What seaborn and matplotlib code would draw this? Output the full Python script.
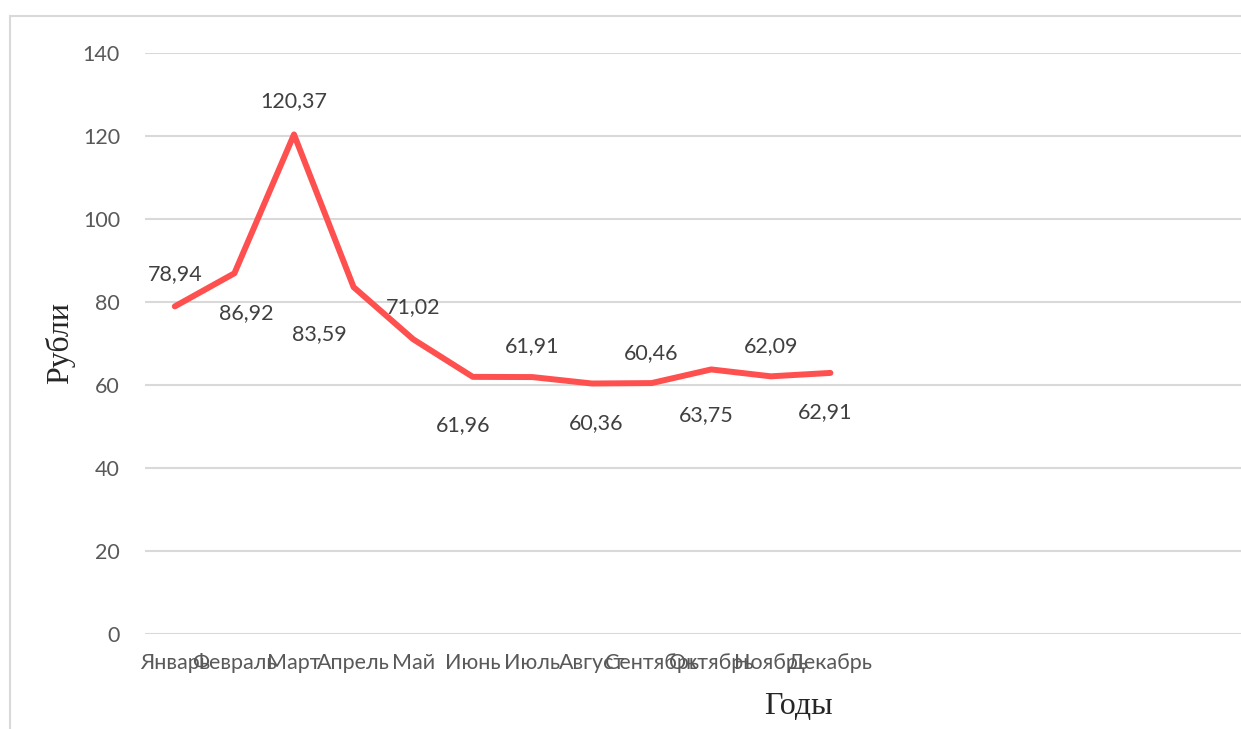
import matplotlib
matplotlib.use("Agg")
import matplotlib.pyplot as plt
from matplotlib.patches import Rectangle
import seaborn as sns
import pandas as pd

months = ["Январь", "Февраль", "Март", "Апрель", "Май", "Июнь",
          "Июль", "Август", "Сентябрь", "Октябрь", "Ноябрь", "Декабрь"]
prices = [78.94, 86.92, 120.37, 83.59, 71.02, 61.96,
          61.91, 60.36, 60.46, 63.75, 62.09, 62.91]
y_ticks = [0, 20, 40, 60, 80, 100, 120, 140]
x_title = "Годы"
y_title = "Рубли"

# label offsets in pixels (dx, dy) relative to each point
label_offsets = [(0, 32), (12, -40), (0, 33), (-34, -47), (0, 32), (-10, -48),
                 (0, 31), (4, -40), (0, 30), (-5, -46), (0, 30), (-5, -39)]

sns.set_theme(style="white")
plt.rcParams["font.family"] = ["Lato", "DejaVu Sans"]

W, H = 1241, 729
fig = plt.figure(figsize=(W / 100, H / 100), dpi=100)
fig.patch.set_facecolor("white")

# outer chart frame
fig.add_artist(Rectangle((10 / W, -0.1), 1.2, 1.1 - 16 / H,
                         transform=fig.transFigure, fill=False,
                         edgecolor="#D9D9D9", linewidth=1.5))

ax = fig.add_axes([145 / W, 1 - 634 / H, 1 - 145 / W, (634 - 53) / H])

df = pd.DataFrame({"month": pd.Categorical(months, categories=months, ordered=True),
                   "price": prices})
df["pos"] = range(len(months))
sns.lineplot(data=df, x="pos", y="price", ax=ax, color="#FF5050",
             linewidth=4.3, sort=False)

ax.set_ylim(0, 140)
ax.set_xlim(-0.5, (W - 145) / 59.6 - 0.5)
ax.set_yticks(y_ticks)
ax.set_xticks(range(len(months)))
ax.set_xticklabels(months)
ax.grid(axis="y", color="#D9D9D9", linewidth=1.5)
ax.grid(axis="x", visible=False)
ax.set_axisbelow(True)
for s in ax.spines.values():
    s.set_visible(False)
ax.tick_params(axis="y", length=0, pad=18, labelsize=15.5, labelcolor="#595959")
ax.tick_params(axis="x", length=0, pad=14, labelsize=15.5, labelcolor="#595959")
ax.set_xlabel("")
ax.set_ylabel("")

for i, (v, (dx, dy)) in enumerate(zip(prices, label_offsets)):
    ax.annotate(f"{v:.2f}".replace(".", ","), (i, v), xytext=(dx, dy),
                textcoords="offset pixels", ha="center", va="center",
                fontsize=15.5, color="#404040")

fig.text(798 / W, 1 - 707 / H, x_title, family="Liberation Serif",
         fontsize=23, color="#262626", ha="center", va="center")
fig.text(60 / W, 1 - 343 / H, y_title, family="Liberation Serif",
         fontsize=23, color="#262626", ha="center", va="center", rotation=90)

fig.savefig("out.png", dpi=100)
